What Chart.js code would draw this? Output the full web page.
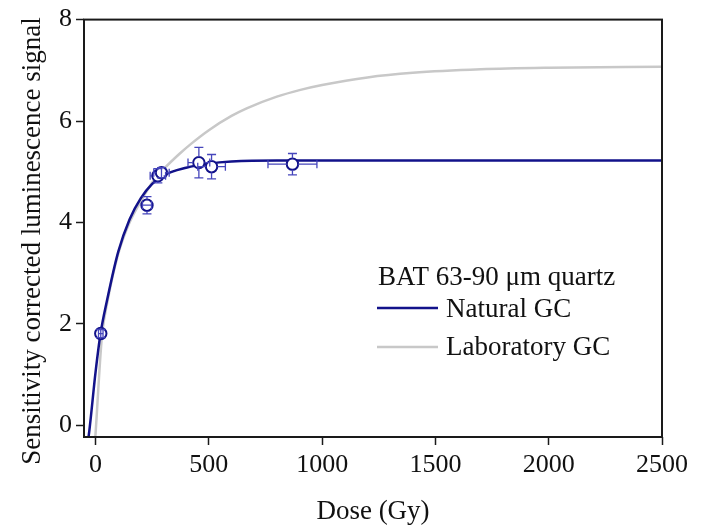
<!DOCTYPE html>
<html>
<head>
<meta charset="utf-8">
<script src="https://cdn.jsdelivr.net/npm/chart.js@4.4.1/dist/chart.umd.min.js"></script>
<style>
  html, body { margin: 0; padding: 0; background: #fff; }
  #contenedor { width: 702px; height: 528px; }
</style>
</head>
<body>
<div id="contenedor"><canvas id="graficaCrecimiento" width="702" height="528"></canvas></div>
<script>
// CURVA DE CRECIMIENTO NATURAL (dosis en Gy, senal corregida)
const dosisNatural = [-40, -31, 0, 22, 50, 100, 150, 200, 250, 300, 400, 500, 600, 800, 1000, 1500, 2000, 2500];
const senalNatural = [-0.45, -0.23, 1.05, 1.81, 2.45, 3.42, 4.06, 4.48, 4.76, 4.93, 5.08, 5.16, 5.20, 5.22, 5.22, 5.22, 5.22, 5.22];

// CURVA DE CRECIMIENTO DE LABORATORIO
const dosisLab = [-12, -1, 28, 53, 100, 150, 200, 260, 300, 372, 424, 500, 600, 667, 800, 900, 1000, 1200, 1400, 1700, 2000, 2500];
const senalLab = [-0.9, -0.23, 1.75, 2.45, 3.38, 4.0, 4.42, 4.85, 5.05, 5.36, 5.56, 5.82, 6.10, 6.25, 6.48, 6.61, 6.71, 6.86, 6.95, 7.02, 7.05, 7.07];

// MEDICIONES CON SUS ERRORES
const dosisMedida = [23, 227, 275, 291, 456, 512, 869];
const senalMedida = [1.81, 4.34, 4.92, 4.98, 5.18, 5.10, 5.15];
const errDosis = [10, 20, 34, 34, 48, 61, 108];
const errSenal = [0.08, 0.17, 0.14, 0.10, 0.30, 0.24, 0.21];

const ticksDosis = [0, 500, 1000, 1500, 2000, 2500];
const ticksSenal = [0, 2, 4, 6, 8];

const tituloLeyenda = 'BAT 63-90 μm quartz';
const nombresCurvas = ['Natural GC', 'Laboratory GC'];
const tituloX = 'Dose (Gy)';
const tituloY = 'Sensitivity corrected luminescence signal';

const AZUL = '#12128a';
const AZUL_ERROR = '#4646bc';
const GRIS = '#c8c8c8';
const FUENTE = '"Liberation Serif", "Times New Roman", serif';
const RADIO = 5.7;

const aPuntos = (xs, ys) => xs.map((x, i) => ({ x, y: ys[i] }));

// BARRAS DE ERROR, MARCO Y LEYENDA DIBUJADOS SOBRE LA GRAFICA
const extras = {
  id: 'extras',
  afterDatasetsDraw(chart) {
    const { ctx, chartArea, scales: { x, y } } = chart;
    ctx.save();
    ctx.strokeStyle = AZUL_ERROR;
    ctx.lineWidth = 1.3;
    dosisMedida.forEach((dosis, i) => {
      const cx = x.getPixelForValue(dosis);
      const cy = y.getPixelForValue(senalMedida[i]);
      const dx = x.getPixelForValue(dosis + errDosis[i]) - cx;
      const dy = cy - y.getPixelForValue(senalMedida[i] + errSenal[i]);
      const iniX = dx > RADIO ? RADIO : 0;
      const iniY = dy > RADIO ? RADIO : 0;
      ctx.beginPath();
      ctx.moveTo(cx, cy - dy); ctx.lineTo(cx, cy - iniY);
      ctx.moveTo(cx, cy + iniY); ctx.lineTo(cx, cy + dy);
      ctx.moveTo(cx - 4.5, cy - dy); ctx.lineTo(cx + 4.5, cy - dy);
      ctx.moveTo(cx - 4.5, cy + dy); ctx.lineTo(cx + 4.5, cy + dy);
      ctx.moveTo(cx - dx, cy); ctx.lineTo(cx - iniX, cy);
      ctx.moveTo(cx + iniX, cy); ctx.lineTo(cx + dx, cy);
      ctx.moveTo(cx - dx, cy - 4); ctx.lineTo(cx - dx, cy + 4);
      ctx.moveTo(cx + dx, cy - 4); ctx.lineTo(cx + dx, cy + 4);
      ctx.stroke();
    });

    // marco
    ctx.strokeStyle = '#1a1a1a';
    ctx.lineWidth = 2;
    ctx.strokeRect(chartArea.left, chartArea.top, chartArea.right - chartArea.left, chartArea.bottom - chartArea.top);
    ctx.restore();
  },
  afterDraw(chart) {
    const { ctx } = chart;
    ctx.save();
    ctx.fillStyle = '#111';
    ctx.font = `27px ${FUENTE}`;
    ctx.textBaseline = 'alphabetic';
    ctx.textAlign = 'left';
    ctx.fillText(tituloLeyenda, 378, 285);

    const filas = [{ color: AZUL, y: 308, base: 317 }, { color: GRIS, y: 347, base: 355 }];
    filas.forEach((fila, i) => {
      ctx.strokeStyle = fila.color;
      ctx.lineWidth = 2.6;
      ctx.beginPath();
      ctx.moveTo(377, fila.y);
      ctx.lineTo(438, fila.y);
      ctx.stroke();
      ctx.fillText(nombresCurvas[i], 446, fila.base);
    });

    // titulo del eje Y
    ctx.translate(33, 241);
    ctx.rotate(-Math.PI / 2);
    ctx.textAlign = 'center';
    ctx.textBaseline = 'middle';
    ctx.fillText(tituloY, 0, 0);
    ctx.restore();
  }
};

const config = {
  type: 'scatter',
  data: {
    datasets: [
      {
        label: 'mediciones',
        data: aPuntos(dosisMedida, senalMedida),
        showLine: false,
        pointStyle: 'circle',
        pointRadius: RADIO,
        pointBorderWidth: 2,
        pointBorderColor: AZUL,
        pointBackgroundColor: '#fff',
        order: 0
      },
      {
        label: nombresCurvas[0],
        data: aPuntos(dosisNatural, senalNatural),
        showLine: true,
        borderColor: AZUL,
        borderWidth: 2.5,
        pointRadius: 0,
        cubicInterpolationMode: 'monotone',
        order: 1
      },
      {
        label: nombresCurvas[1],
        data: aPuntos(dosisLab, senalLab),
        showLine: true,
        borderColor: GRIS,
        borderWidth: 2.5,
        pointRadius: 0,
        cubicInterpolationMode: 'monotone',
        order: 2
      }
    ]
  },
  options: {
    responsive: false,
    animation: false,
    devicePixelRatio: 1,
    layout: { padding: { left: 0, right: 40, top: 14, bottom: 0 } },
    plugins: { legend: { display: false }, tooltip: { enabled: false } },
    scales: {
      x: {
        type: 'linear',
        min: -51,
        max: 2500,
        afterBuildTicks: (eje) => { eje.ticks = ticksDosis.map((v) => ({ value: v })); },
        afterFit: (eje) => { eje.height = 91; },
        border: { display: false },
        grid: { drawOnChartArea: false, drawTicks: true, tickLength: 8, tickColor: '#1a1a1a', tickWidth: 1.5 },
        ticks: { color: '#111', font: { family: FUENTE, size: 26 }, padding: 5, maxRotation: 0, callback: (v) => String(v) },
        title: { display: true, text: tituloX, color: '#111', font: { family: FUENTE, size: 27 }, padding: { top: 0, bottom: 0 } }
      },
      y: {
        type: 'linear',
        min: -0.23,
        max: 8,
        afterBuildTicks: (eje) => { eje.ticks = ticksSenal.map((v) => ({ value: v })); },
        afterFit: (eje) => { eje.width = 84; },
        border: { display: false },
        grid: { drawOnChartArea: false, drawTicks: true, tickLength: 8, tickColor: '#1a1a1a', tickWidth: 1.5 },
        ticks: { color: '#111', font: { family: FUENTE, size: 26 }, padding: 4, callback: (v) => String(v) }
      }
    }
  },
  plugins: [extras]
};

new Chart(document.getElementById('graficaCrecimiento'), config);
</script>
</body>
</html>
